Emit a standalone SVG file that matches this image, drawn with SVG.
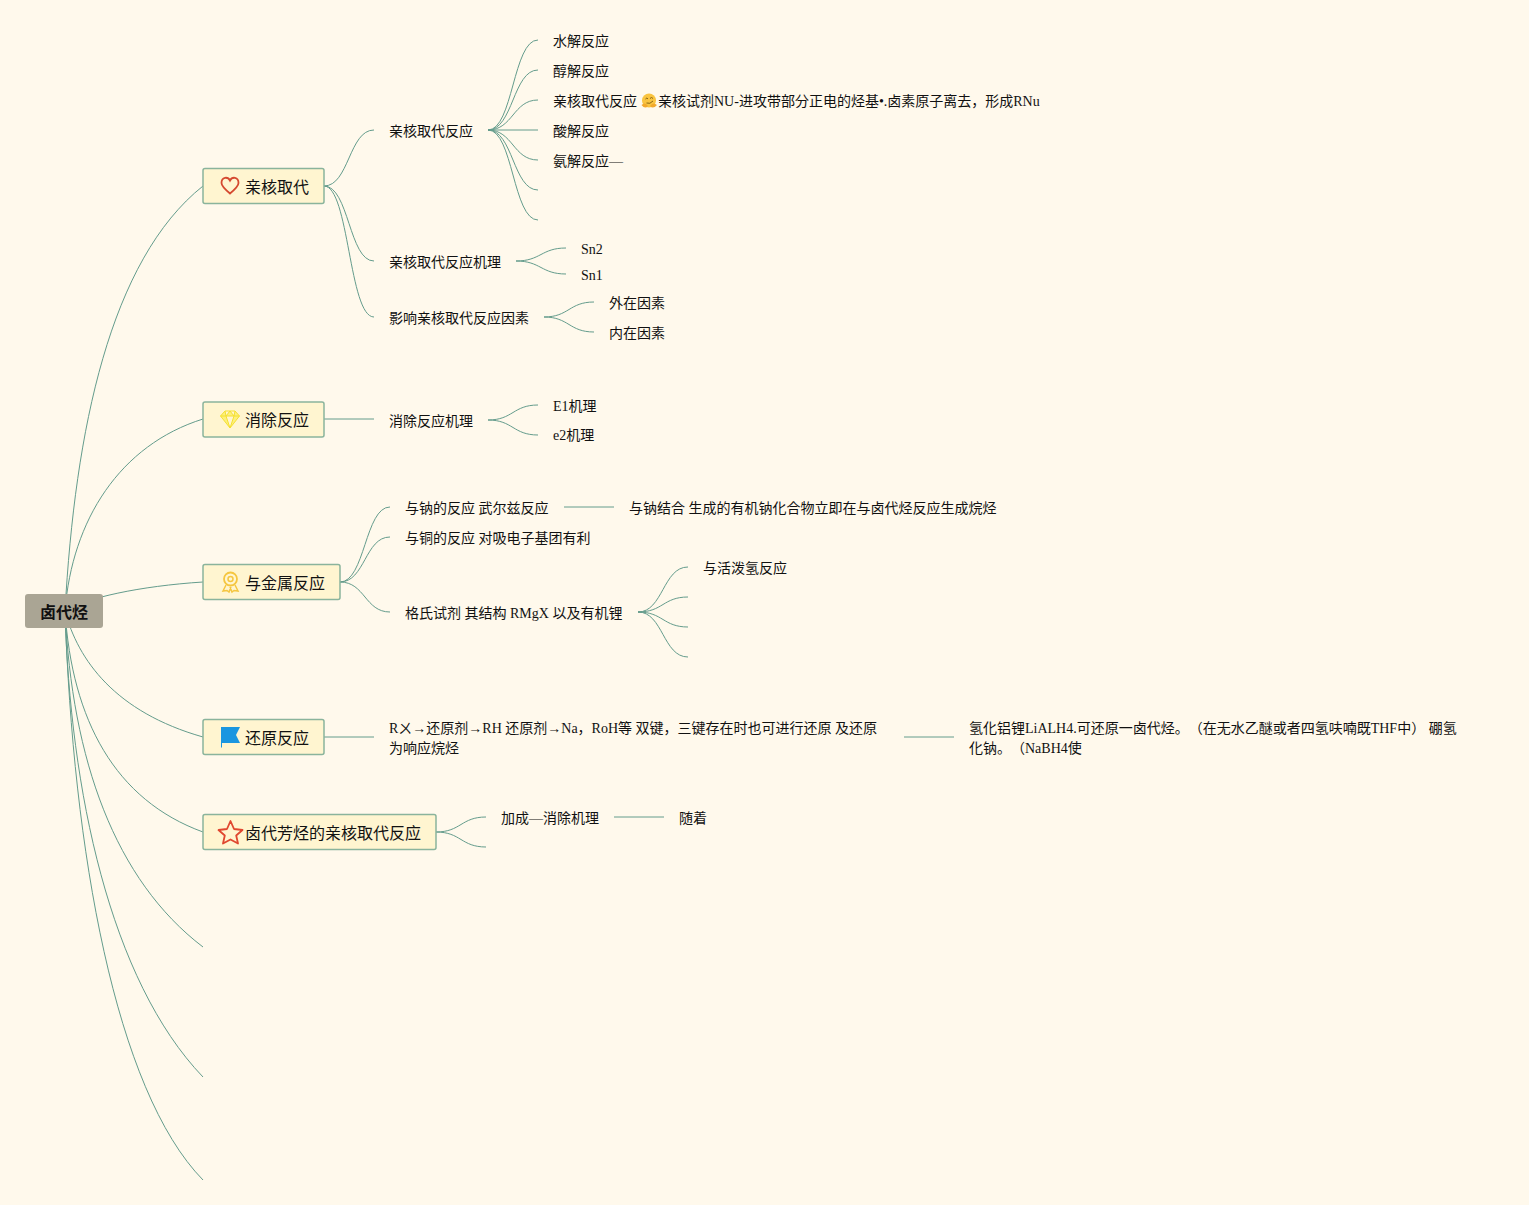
<svg xmlns="http://www.w3.org/2000/svg" width="1529" height="1205" viewBox="0 0 1529 1205">
<style>
text{font-family:"Liberation Serif","Noto Sans CJK JP",serif;font-size:14px;fill:#111;text-spacing-trim:space-all}
.n text{font-size:16px}
.n rect{fill:#fff5d0;stroke:#8ab49c;stroke-width:1.500}
#connectors path{fill:none;stroke:#649c8c;stroke-width:1}
</style>
<rect width="1529" height="1205" fill="#fff9ec"/>
<g id="connectors">
<path d="M65 611C75 430 110 260 203 186"/>
<path d="M65 611C72 520 120 445 203 419"/>
<path d="M65 611C85 598 140 586 203 582"/>
<path d="M65 611C78 660 115 712 203 737"/>
<path d="M65 611C72 720 115 800 203 832"/>
<path d="M65 611C72 760 115 880 203 947"/>
<path d="M65 611C70 790 110 980 203 1077"/>
<path d="M65 611C73 850 115 1090 203 1180"/>
<path d="M324 186C349 186 349 130 374 130"/>
<path d="M324 186C349 186 349 261 374 261"/>
<path d="M324 186C349 186 349 317 374 317"/>
<path d="M488 130C513 130 513 40 538 40"/>
<path d="M488 130C513 130 513 70 538 70"/>
<path d="M488 130C513 130 513 100 538 100"/>
<path d="M488 130H538"/>
<path d="M488 130C513 130 513 160 538 160"/>
<path d="M488 130C513 130 513 190 538 190"/>
<path d="M488 130C513 130 513 220 538 220"/>
<path d="M516 261C541 261 541 248 566 248"/>
<path d="M516 261C541 261 541 274 566 274"/>
<path d="M544 317C569 317 569 302 594 302"/>
<path d="M544 317C569 317 569 332 594 332"/>
<path d="M324 419H374"/>
<path d="M488 420C513 420 513 405 538 405"/>
<path d="M488 420C513 420 513 435 538 435"/>
<path d="M340 582C365 582 365 507 390 507"/>
<path d="M340 582C365 582 365 537 390 537"/>
<path d="M340 582C365 582 365 612 390 612"/>
<path d="M564 507H614"/>
<path d="M638 612C663 612 663 567 688 567"/>
<path d="M638 612C663 612 663 597 688 597"/>
<path d="M638 612C663 612 663 627 688 627"/>
<path d="M638 612C663 612 663 657 688 657"/>
<path d="M324 737H374"/>
<path d="M904 737H954"/>
<path d="M436 832C461 832 461 817 486 817"/>
<path d="M436 832C461 832 461 847 486 847"/>
<path d="M614 817H664"/>
</g>
<g id="root"><rect x="25" y="594" width="78" height="34" rx="3" fill="#aaa594"/><text x="64" y="618" text-anchor="middle" style="font-size:16px;font-weight:bold">卤代烃</text></g>
<g id="n1" class="n"><rect x="203" y="168.500" width="121" height="35" rx="2"/><path d="M230 193.500C224 188.500 221.500 185.500 221.500 183C221.500 176.500 228 176.500 230 180.500C232 176.500 238.500 176.500 238.500 183C238.500 185.500 236 188.500 230 193.500Z" fill="none" stroke="#d5492f" stroke-width="1.800"/><text x="245" y="193">亲核取代</text></g>
<g id="n2" class="n"><rect x="203" y="402" width="121" height="35" rx="2"/><path d="M225 411H235L239.500 416L230 428L220.500 416ZM220.500 416H239.500M226 416L230 428L234 416M225 411L226 416L230 411L234 416L235 411" fill="#fdf07a" stroke="#f5e030" stroke-width="1"/><text x="245" y="426">消除反应</text></g>
<g id="n3" class="n"><rect x="203" y="564.500" width="137" height="35" rx="2"/><circle cx="230.500" cy="579" r="6.500" fill="none" stroke="#f5c640" stroke-width="1.800"/><circle cx="230.500" cy="579" r="2.500" fill="none" stroke="#f5c640" stroke-width="1.500"/><path d="M226 585L223 591L227 590.500L229 592L231 587M235 585L238 591L234 590.500L232 592L230 587" fill="none" stroke="#f5c640" stroke-width="1.500"/><text x="245" y="589">与金属反应</text></g>
<g id="n4" class="n"><rect x="203" y="719.500" width="121" height="35" rx="2"/><path d="M221 727H240L236 735L240 743H222V747.500H221Z" fill="#1a96e0"/><text x="245" y="744">还原反应</text></g>
<g id="n5" class="n"><rect x="203" y="814.500" width="233" height="35" rx="2"/><path d="M230.500 821L234 829L242.500 830L236.200 835.500L238 843.500L230.500 839.500L223 843.500L224.800 835.500L218.500 830L227 829Z" fill="none" stroke="#e0472f" stroke-width="1.800" stroke-linejoin="round"/><text x="245" y="839">卤代芳烃的亲核取代反应</text></g>
<g id="l1"><text x="389" y="136">亲核取代反应</text></g>
<g id="l2"><text x="553" y="46">水解反应</text></g>
<g id="l3"><text x="553" y="76">醇解反应</text></g>
<g id="l4"><text x="553" y="106">亲核取代反应</text><circle cx="649" cy="100.500" r="7" fill="#f9c440"/><path d="M645.500 99Q647 97 648 99M650 98.500Q651.500 96.500 653 98.500M646.500 103Q650 104.500 653 101" fill="none" stroke="#7a5a10" stroke-width=".9"/><path d="M641.500 105Q645 101.500 648 106Q645 109.500 641.500 105ZM650 106Q653 101.500 657 105Q653 109.500 650 106Z" fill="#f2a92c"/><text x="658" y="106">亲核试剂NU-进攻带部分正电的烃基•.卤素原子离去，形成RNu</text></g>
<g id="l5"><text x="553" y="136">酸解反应</text></g>
<g id="l6"><text x="553" y="166">氨解反应—</text></g>
<g id="l7"><text x="389" y="267">亲核取代反应机理</text></g>
<g id="l8"><text x="581" y="254">Sn2</text></g>
<g id="l9"><text x="581" y="280">Sn1</text></g>
<g id="l10"><text x="389" y="323">影响亲核取代反应因素</text></g>
<g id="l11"><text x="609" y="308">外在因素</text></g>
<g id="l12"><text x="609" y="338">内在因素</text></g>
<g id="l13"><text x="389" y="426">消除反应机理</text></g>
<g id="l14"><text x="553" y="411">E1机理</text></g>
<g id="l15"><text x="553" y="440">e2机理</text></g>
<g id="l16"><text x="405" y="513">与钠的反应 武尔兹反应</text></g>
<g id="l17"><text x="629" y="513">与钠结合 生成的有机钠化合物立即在与卤代烃反应生成烷烃</text></g>
<g id="l18"><text x="405" y="543">与铜的反应 对吸电子基团有利</text></g>
<g id="l19"><text x="405" y="618">格氏试剂 其结构 RMgX 以及有机锂</text></g>
<g id="l20"><text x="703" y="573">与活泼氢反应</text></g>
<g id="l21"><text x="389" y="733">Rㄨ→还原剂→RH 还原剂→Na，RoH等 双键，三键存在时也可进行还原 及还原</text><text x="389" y="753">为响应烷烃</text></g>
<g id="l22"><text x="969" y="733">氢化铝锂LiALH4.可还原一卤代烃。（在无水乙醚或者四氢呋喃既THF中） 硼氢</text><text x="969" y="753">化钠。（NaBH4使</text></g>
<g id="l23"><text x="501" y="823">加成—消除机理</text></g>
<g id="l24"><text x="679" y="823">随着</text></g>
</svg>
